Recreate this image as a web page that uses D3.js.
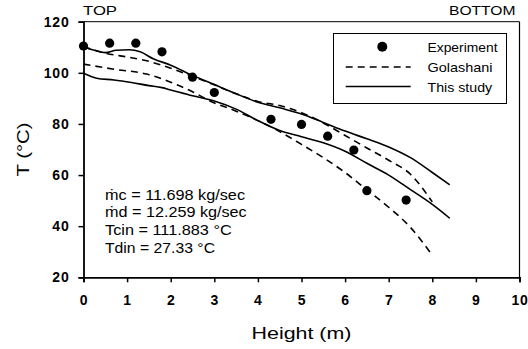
<!DOCTYPE html>
<html><head><meta charset="utf-8">
<script src="https://cdn.jsdelivr.net/npm/d3@7"></script>
<style>body{margin:0;background:#fff}svg{display:block}text{font-family:"Liberation Sans",Arial,sans-serif;fill:#000}</style>
</head><body><svg id="c" width="528" height="349"></svg>
<script>
const xTicks = [0,1,2,3,4,5,6,7,8,9,10];
const yTicks = [20,40,60,80,100,120];
const expX = [0,0.6,1.2,1.8,2.5,3.0,4.3,5.0,5.6,6.2,6.5,7.4];
const expT = [110.5,111.6,111.6,108.2,98.3,92.3,81.8,79.8,75.2,69.8,53.9,50.2];
const studyUpX = [0,0.25,0.5,0.75,1.05,1.3,1.6,2.0,2.5,3.0,3.5,4.0,4.5,5.0,5.5,6.0,6.5,7.0,7.5,8.0,8.4];
const studyUpT = [110.2,108.8,107.9,108.8,109.0,108.2,105.5,103,99,95.4,91.8,88.5,86.3,83.9,80.6,77.2,74.2,71,66.8,61,56.2];
const studyLoX = [0,0.3,0.7,1.1,1.5,1.8,2.0,2.5,3.0,3.5,4.0,4.5,5.0,5.5,6.0,6.5,7.0,7.5,8.0,8.4];
const studyLoT = [99.8,97.9,97.2,96.2,95.0,94.2,93.3,91.0,89.0,85.8,81.3,77.4,75.0,72.6,69.3,64.6,60.0,54.3,48.5,43.1];
const golaUpX = [0,0.5,1.07,1.45,2.0,2.5,3.0,3.5,4.0,4.5,5.0,5.5,6.0,6.5,7.0,7.5,8.0];
const golaUpT = [110.2,107.7,106.0,104.7,101.8,98.6,95.3,91.8,88.8,87.2,84.4,80.4,75.5,70.6,65.8,60.3,49.5];
const golaLoX = [0,0.7,1.45,2.0,2.5,2.9,3.5,4.0,4.5,5.0,5.5,6.0,6.5,7.0,7.5,7.95];
const golaLoT = [103.4,101.4,99.5,96.3,92.6,89.0,85.0,81.3,77.0,72.0,66.8,61.0,54.2,47.4,39.5,29.8];
const legendLabels = ["Experiment","Golashani","This study"];
const notes = ["ṁc = 11.698 kg/sec","ṁd = 12.259 kg/sec","Tcin = 111.883 °C","Tdin = 27.33 °C"];

const svg = d3.select("#c");
const L=83.5, R=519.5, T=21.7, B=277.3;
const x = d3.scaleLinear().domain([0,10]).range([L,R]);
const y = d3.scaleLinear().domain([20,120]).range([B,T]);

// frame
svg.append("line").attr("x1",L).attr("x2",R).attr("y1",T).attr("y2",T).attr("stroke","#000").attr("stroke-width",1);
svg.append("line").attr("x1",R).attr("x2",R).attr("y1",T).attr("y2",B).attr("stroke","#000").attr("stroke-width",1.2);

const xa = svg.append("g").attr("transform",`translate(0,${B})`)
  .call(d3.axisBottom(x).tickValues(xTicks).tickFormat(d3.format("d")).tickSizeOuter(0).tickSize(5).tickPadding(13));
const ya = svg.append("g").attr("transform",`translate(${L},0)`)
  .call(d3.axisLeft(y).tickValues(yTicks).tickSizeOuter(0).tickSize(5).tickPadding(9));
[xa,ya].forEach(a=>{
  a.select(".domain").attr("stroke","#000").attr("stroke-width",1.8);
  a.selectAll(".tick line").attr("stroke","#000").attr("stroke-width",1.5);
  a.selectAll(".tick text").attr("font-size",14).attr("font-weight","bold").attr("letter-spacing",0.8)
   .attr("font-family","Liberation Sans, Arial, sans-serif").attr("fill","#000");
});

const line = d3.line().x(d=>x(d[0])).y(d=>y(d[1])).curve(d3.curveMonotoneX);
function drawLine(xs,ts,dash){
  svg.append("path").datum(xs.map((v,i)=>[v,ts[i]])).attr("d",line)
   .attr("fill","none").attr("stroke","#000").attr("stroke-width",1.6)
   .attr("stroke-dasharray",dash||null);
}
drawLine(golaUpX,golaUpT,"7,5");
drawLine(golaLoX,golaLoT,"7,5");
drawLine(studyUpX,studyUpT);
drawLine(studyLoX,studyLoT);

svg.append("g").selectAll("circle").data(expX.map((v,i)=>[v,expT[i]])).join("circle")
  .attr("cx",d=>x(d[0])).attr("cy",d=>y(d[1])).attr("r",4.6).attr("fill","#000");

// legend
svg.append("rect").attr("x",333.5).attr("y",33.5).attr("width",173).attr("height",70).attr("fill","#fff").attr("stroke","#000").attr("stroke-width",1);
const ly=[46.7,67,86.5];
const lw=[70,65,64.7];
svg.append("circle").attr("cx",382.3).attr("cy",ly[0]).attr("r",5).attr("fill","#000");
svg.append("line").attr("x1",345.7).attr("x2",410.7).attr("y1",ly[1]).attr("y2",ly[1]).attr("stroke","#000").attr("stroke-width",1.4).attr("stroke-dasharray","7,5");
svg.append("line").attr("x1",345.7).attr("x2",410.7).attr("y1",ly[2]).attr("y2",ly[2]).attr("stroke","#000").attr("stroke-width",1.4);
legendLabels.forEach((t,i)=>svg.append("text").attr("x",427.5).attr("y",ly[i]+5).attr("font-size",13.5)
  .attr("textLength",lw[i]).attr("lengthAdjust","spacingAndGlyphs").text(t));

// notes
const nw=[140,141.7,126.7,110];
notes.forEach((t,i)=>svg.append("text").attr("x",105).attr("y",199.5+i*17.8).attr("font-size",14)
  .attr("textLength",nw[i]).attr("lengthAdjust","spacingAndGlyphs").text(t));

svg.append("text").attr("x",83).attr("y",15.2).attr("font-size",12).attr("textLength",34).attr("lengthAdjust","spacingAndGlyphs").text("TOP");
svg.append("text").attr("x",449).attr("y",15.2).attr("font-size",12).attr("textLength",66.5).attr("lengthAdjust","spacingAndGlyphs").text("BOTTOM");
svg.append("text").attr("x",(L+R)/2-50).attr("y",339).attr("font-size",17).attr("textLength",100).attr("lengthAdjust","spacingAndGlyphs").text("Height (m)");
svg.append("text").attr("transform",`translate(29,${(T+B)/2+27}) rotate(-90)`).attr("font-size",17).attr("textLength",54).attr("lengthAdjust","spacingAndGlyphs").text("T (°C)");
</script></body></html>
